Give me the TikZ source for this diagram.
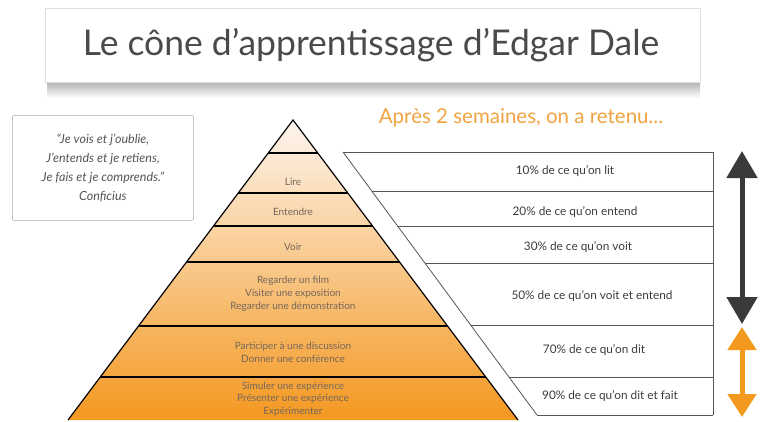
\documentclass[tikz,border=0pt]{standalone}
\usepackage{fontspec}
\setmainfont{Lato}
\usetikzlibrary{arrows.meta,positioning}
\definecolor{titlegray}{HTML}{4A4A4A}
\definecolor{subtitleorange}{HTML}{F2A341}
\definecolor{quotegray}{HTML}{555555}
\definecolor{layergray}{HTML}{75665A}
\definecolor{rowgray}{HTML}{3C3C3C}
\definecolor{linegray}{HTML}{555555}
\definecolor{pyrtop}{HTML}{FDF5EE}
\definecolor{pyrmid}{HTML}{F8C992}
\definecolor{pyrbot}{HTML}{F49820}
\definecolor{darkarrow}{HTML}{3A3A3A}
\definecolor{orangearrow}{HTML}{F39A1E}

\begin{document}
\begin{tikzpicture}[x=1pt,y=-1pt,
    layer text/.style={font=\fontsize{10}{12.8}\selectfont, text=layergray, align=center},
    row text/.style={font=\fontsize{11.8}{13}\selectfont, text=rowgray},
    table line/.style={draw=linegray, line width=0.8pt},
    layer line/.style={draw=black, line width=1.2pt},
    big arrow/.style={line width=5pt, <->}]
    \useasboundingbox (0,0) rectangle (760,421);

    % title box with its shadow
    \shade[top color=gray!60, bottom color=white] (47,82) rectangle (700,98);
    \node [rectangle, draw=gray!25, fill=white, minimum width=655, minimum height=74, anchor=north west](title box) at (45,8){};
    \node (title) at (371,45){\fontsize{35.5}{38}\selectfont\color{titlegray}Le cône d’apprentissage d’Edgar Dale};

    % quote
    \node [rectangle, rounded corners=2pt, draw=gray!45, line width=0.8pt, minimum width=181, minimum height=105, anchor=north west](quote box) at (12,115){};
    \node [align=center, font=\itshape\fontsize{12.5}{19}\selectfont, text=quotegray](quote) at (quote box.center){“Je vois et j’oublie,\\J’entends et je retiens,\\Je fais et je comprends.”\\Conficius};

    % cone
    \coordinate (apex) at (293,120);
    \coordinate (base left) at (68,420);
    \coordinate (base right) at (518,420);
    \shade[top color=pyrtop, middle color=pyrmid, bottom color=pyrbot] (apex) -- (base right) -- (base left) -- cycle;
    \foreach \y in {153,193,226,262,326,377}
        \draw[layer line] ({293-(\y-120)*0.75},\y) -- ({293+(\y-120)*0.75},\y);
    \draw[layer line, line join=miter] (base left) -- (apex) -- (base right);

    \node [layer text](lire) at (293,182){Lire};
    \node [layer text](entendre) at (293,212){Entendre};
    \node [layer text](voir) at (293,247){Voir};
    \node [layer text](regarder) at (293,294){Regarder un film\\Visiter une exposition\\Regarder une démonstration};
    \node [layer text](participer) at (293,352){Participer à une discussion\\Donner une conférence};
    \node [layer text](simuler) at (293,399){Simuler une expérience\\Présenter une expérience\\Expérimenter};

    % retention table
    \node [font=\fontsize{20.5}{23}\selectfont, text=subtitleorange](after) at (521,118){Après 2 semaines, on a retenu...};
    \foreach \y in {152,191,226,263,325,377,415}
        \draw[table line] ({343+(\y-152)*0.7376},\y) -- (713,\y);
    \draw[table line] (343,152) -- (537,415);
    \draw[table line] (713,152) -- (713,415);

    \node [row text](r10) at (565,171){10\% de ce qu’on lit};
    \node [row text](r20) at (575,212){20\% de ce qu’on entend};
    \node [row text](r30) at (578,247){30\% de ce qu’on voit};
    \node [row text](r50) at (592,296){50\% de ce qu’on voit et entend};
    \node [row text](r70) at (594,350){70\% de ce qu’on dit};
    \node [row text](r90) at (610,396){90\% de ce qu’on dit et fait};

    % arrows
    \coordinate (dark top) at (742,151);
    \coordinate (dark bottom) at (742,324);
    \coordinate (orange top) at (742,327);
    \coordinate (orange bottom) at (742,417);
    \draw[big arrow, darkarrow, >={Triangle[width=30pt,length=27pt]}] (dark top) -- (dark bottom);
    \draw[big arrow, orangearrow, >={Triangle[width=28pt,length=23pt]}] (orange top) -- (orange bottom);
\end{tikzpicture}
\end{document}
